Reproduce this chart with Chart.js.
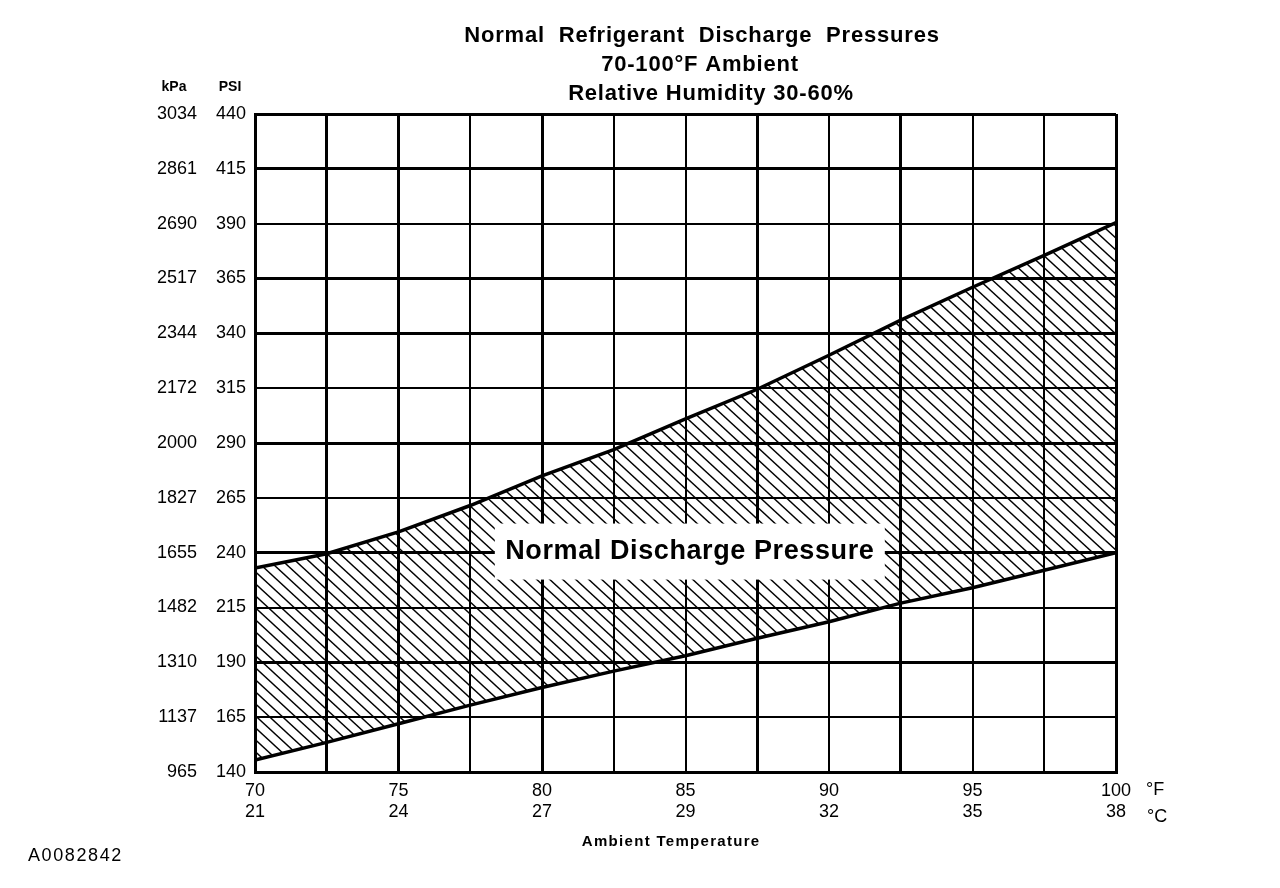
<!DOCTYPE html>
<html>
<head>
<meta charset="utf-8">
<script src="https://cdn.jsdelivr.net/npm/chart.js@4"></script>
<style>
  html, body { margin: 0; padding: 0; background: #fff; }
  #wrap { width: 1280px; height: 888px; position: relative; }
</style>
</head>
<body>
<div id="wrap"><canvas id="pressureChart"></canvas></div>
<script>
// ambient temperature grid (°F), every 2.5 degrees
const tempsF = [70, 72.5, 75, 77.5, 80, 82.5, 85, 87.5, 90, 92.5, 95, 97.5, 100];
// band limits in PSI
const upperPsi = [233, 239.5, 249.5, 261.5, 275, 287, 301, 314.5, 330, 346, 361, 375.5, 390.5];
const lowerPsi = [145.5, 153.5, 162, 170.5, 178.5, 186, 193, 201, 208.5, 217, 224, 232, 240];

// tick labels
const psiTicks = [140, 165, 190, 215, 240, 265, 290, 315, 340, 365, 390, 415, 440];
const kpaTicks = ['965', '1137', '1310', '1482', '1655', '1827', '2000', '2172', '2344', '2517', '2690', '2861', '3034'];
const fLabels = [70, 75, 80, 85, 90, 95, 100];
const cLabels = [21, 24, 27, 29, 32, 35, 38];

const FONT = '"Liberation Sans", Arial, Helvetica, sans-serif';

// hatch pattern "\\\\"
function makeHatch() {
    const w = 13, h = 12;
    const c = document.createElement('canvas');
    c.width = w; c.height = h;
    const g = c.getContext('2d');
    g.strokeStyle = '#000';
    g.lineWidth = 1.4;
    [-w, 0, w].forEach(function (dx) {
        g.beginPath();
        g.moveTo(dx - w, -h);
        g.lineTo(dx + 2 * w, 2 * h);
        g.stroke();
    });
    return g.createPattern(c, 'repeat');
}

const xGridWidths = [3, 3, 3, 2, 3, 2, 2, 3, 2, 3, 2, 2, 3];
const yGridWidths = [3, 2, 3, 2, 3, 2, 3, 2, 3, 3, 2, 3, 3];

function spaced(c, px) {
    if ('letterSpacing' in c) c.letterSpacing = px + 'px';
}

const textPlugin = {
    id: 'extraText',
    afterDatasetsDraw(chart) {
        const c = chart.ctx;
        const area = chart.chartArea;
        const xs = chart.scales.x, ys = chart.scales.y;
        c.save();
        c.fillStyle = '#000';
        c.textBaseline = 'middle';

        // label box in the middle of the band
        const bx = xs.getPixelForValue(85.15), by = ys.getPixelForValue(240.5);
        c.fillStyle = '#fff';
        c.fillRect(bx - 195, by - 28, 390, 56);
        c.fillStyle = '#000';
        c.textAlign = 'center';
        c.font = 'bold 27px ' + FONT;
        spaced(c, 0.6);
        c.fillText('Normal Discharge Pressure', bx, by);

        // title
        c.font = 'bold 22px ' + FONT;
        spaced(c, 0.8);
        c.fillText('Normal  Refrigerant  Discharge  Pressures', 702, 36);
        c.fillText('70-100°F Ambient', 700, 65);
        c.fillText('Relative Humidity 30-60%', 711, 94);

        // axis headers
        c.font = 'bold 14px ' + FONT;
        spaced(c, 0);
        c.fillText('kPa', area.left - 81, 87);
        c.fillText('PSI', area.left - 25, 87);

        // units at the right of the x axis
        c.font = '18px ' + FONT;
        c.textAlign = 'left';
        c.fillText('°F', area.right + 30, 790);
        c.fillText('°C', area.right + 31, 817);

        c.textAlign = 'center';
        c.font = 'bold 15px ' + FONT;
        spaced(c, 1.3);
        c.fillText('Ambient Temperature', xs.getPixelForValue(84.5), 842);

        c.textAlign = 'left';
        c.font = '18px ' + FONT;
        spaced(c, 1.6);
        c.fillText('A0082842', 28, 856);
        c.restore();
    }
};

const ctx = document.getElementById('pressureChart').getContext('2d');
const pressureChart = new Chart(ctx, {
    type: 'line',
    data: {
        datasets: [{
            label: 'Lower limit',
            data: tempsF.map((t, i) => ({ x: t, y: lowerPsi[i] })),
            borderColor: '#000',
            borderWidth: 3.5,
            pointRadius: 0,
            fill: false
        }, {
            label: 'Upper limit',
            data: tempsF.map((t, i) => ({ x: t, y: upperPsi[i] })),
            borderColor: '#000',
            borderWidth: 3.5,
            pointRadius: 0,
            fill: '-1',
            backgroundColor: makeHatch()
        }]
    },
    options: {
        responsive: true,
        maintainAspectRatio: false,
        animation: false,
        events: [],
        layout: {
            padding: { left: 139, right: 164, top: 114, bottom: 66 }
        },
        scales: {
            x: {
                type: 'linear',
                min: 70,
                max: 100,
                afterBuildTicks: s => { s.ticks = tempsF.map(v => ({ value: v })); },
                afterFit: s => { s.height = 50; },
                grid: {
                    color: '#000',
                    lineWidth: c => xGridWidths[c.index] || 2,
                    drawTicks: false
                },
                border: { display: true, color: '#000', width: 3 },
                ticks: {
                    autoSkip: false,
                    maxRotation: 0,
                    padding: 8,
                    color: '#000',
                    font: { family: FONT, size: 18 },
                    callback: function (v) {
                        const i = fLabels.indexOf(v);
                        return i >= 0 ? [String(v), String(cLabels[i])] : '';
                    }
                }
            },
            y: {
                position: 'left',
                weight: 0,
                min: 140,
                max: 440,
                afterBuildTicks: s => { s.ticks = psiTicks.map(v => ({ value: v })); },
                afterFit: s => { s.width = 56; },
                grid: {
                    color: '#000',
                    lineWidth: c => yGridWidths[c.index] || 2,
                    drawTicks: false
                },
                border: { display: true, color: '#000', width: 3 },
                ticks: {
                    padding: 9,
                    color: '#000',
                    font: { family: FONT, size: 18 },
                    callback: v => String(v)
                }
            },
            y2: {
                position: 'left',
                weight: 1,
                min: 140,
                max: 440,
                afterBuildTicks: s => { s.ticks = psiTicks.map(v => ({ value: v })); },
                afterFit: s => { s.width = 60; },
                grid: { display: false, drawTicks: false },
                border: { display: false },
                ticks: {
                    padding: 2,
                    color: '#000',
                    font: { family: FONT, size: 18 },
                    callback: (v, i) => kpaTicks[i]
                }
            }
        },
        plugins: {
            legend: { display: false },
            tooltip: { enabled: false }
        }
    },
    plugins: [textPlugin]
});
</script>
</body>
</html>
